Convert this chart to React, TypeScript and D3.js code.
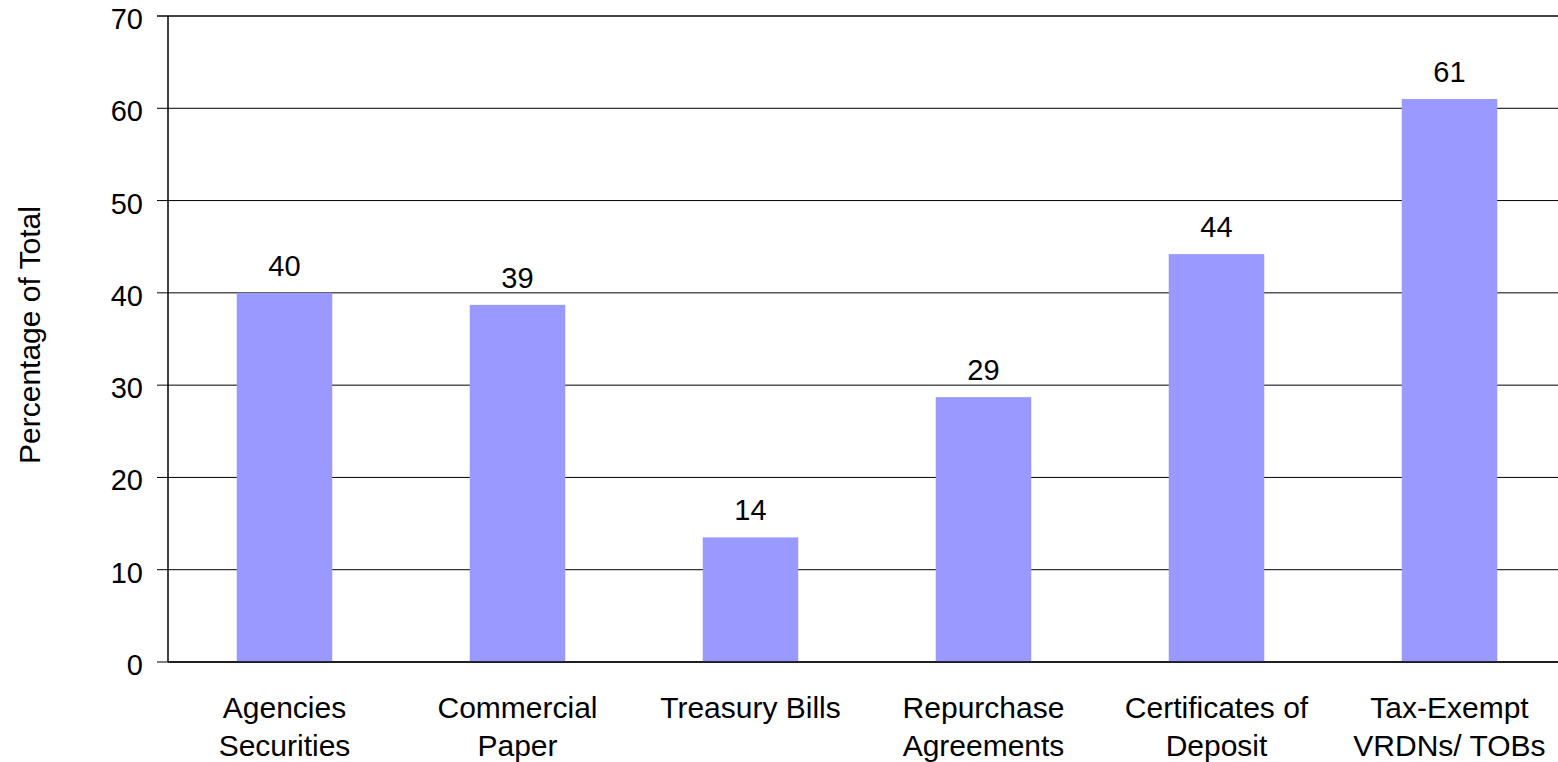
import React from "react";
import * as d3 from "d3";

const categories: string[][] = [
  ["Agencies", "Securities"],
  ["Commercial", "Paper"],
  ["Treasury Bills"],
  ["Repurchase", "Agreements"],
  ["Certificates of", "Deposit"],
  ["Tax-Exempt", "VRDNs/ TOBs"],
];
const values: number[] = [40, 38.7, 13.5, 28.7, 44.2, 61.0];
const valueLabels: string[] = ["40", "39", "14", "29", "44", "61"];
const yTicks: number[] = [0, 10, 20, 30, 40, 50, 60, 70];
const yTitle = "Percentage of Total";

const W = 1558;
const H = 762;
const left = 168;
const top = 16;
const bottom = 662;
const plotRight = 1566;
const FONT = "'Liberation Sans', Arial, sans-serif";
const FS = 29;
const FS_CAT = 30;

export default function App() {
  const x = d3
    .scaleBand<number>()
    .domain(d3.range(values.length))
    .range([left, plotRight])
    .paddingInner(0.59)
    .paddingOuter(0.295);
  const y = d3.scaleLinear().domain([0, 70]).range([bottom, top]);

  return (
    <svg
      width={W}
      height={H}
      style={{ position: "absolute", left: 0, top: 0, background: "#fff" }}
      fontFamily={FONT}
    >
      {yTicks.map((t) => (
        <g key={t}>
          <line
            x1={left - 11}
            x2={W}
            y1={y(t)}
            y2={y(t)}
            stroke={t === 70 ? "#444" : "#000"}
            strokeWidth={t === 70 ? 2 : 1}
          />
          <text
            x={143}
            y={y(t) + 3}
            textAnchor="end"
            dominantBaseline="central"
            fontSize={FS}
            fill="#000"
          >
            {t}
          </text>
        </g>
      ))}
      {values.map((v, i) => (
        <g key={i}>
          <rect
            x={x(i)}
            y={y(v)}
            width={x.bandwidth()}
            height={y(0) - y(v)}
            fill="#9999FF"
          />
          <text
            x={(x(i) as number) + x.bandwidth() / 2}
            y={y(v) - 17}
            textAnchor="middle"
            fontSize={FS}
            fill="#000"
          >
            {valueLabels[i]}
          </text>
          {categories[i].map((line, j) => (
            <text
              key={j}
              x={(x(i) as number) + x.bandwidth() / 2}
              y={718 + j * 38}
              textAnchor="middle"
              fontSize={FS_CAT}
              fill="#000"
            >
              {line}
            </text>
          ))}
        </g>
      ))}
      <line x1={left} x2={left} y1={top} y2={bottom} stroke="#000" strokeWidth={1.5} />
      <line x1={left} x2={W} y1={bottom} y2={bottom} stroke="#000" strokeWidth={1.5} />
      <text
        transform={`translate(29, 335) rotate(-90)`}
        textAnchor="middle"
        dominantBaseline="central"
        fontSize={FS_CAT}
        fill="#000"
      >
        {yTitle}
      </text>
    </svg>
  );
}
